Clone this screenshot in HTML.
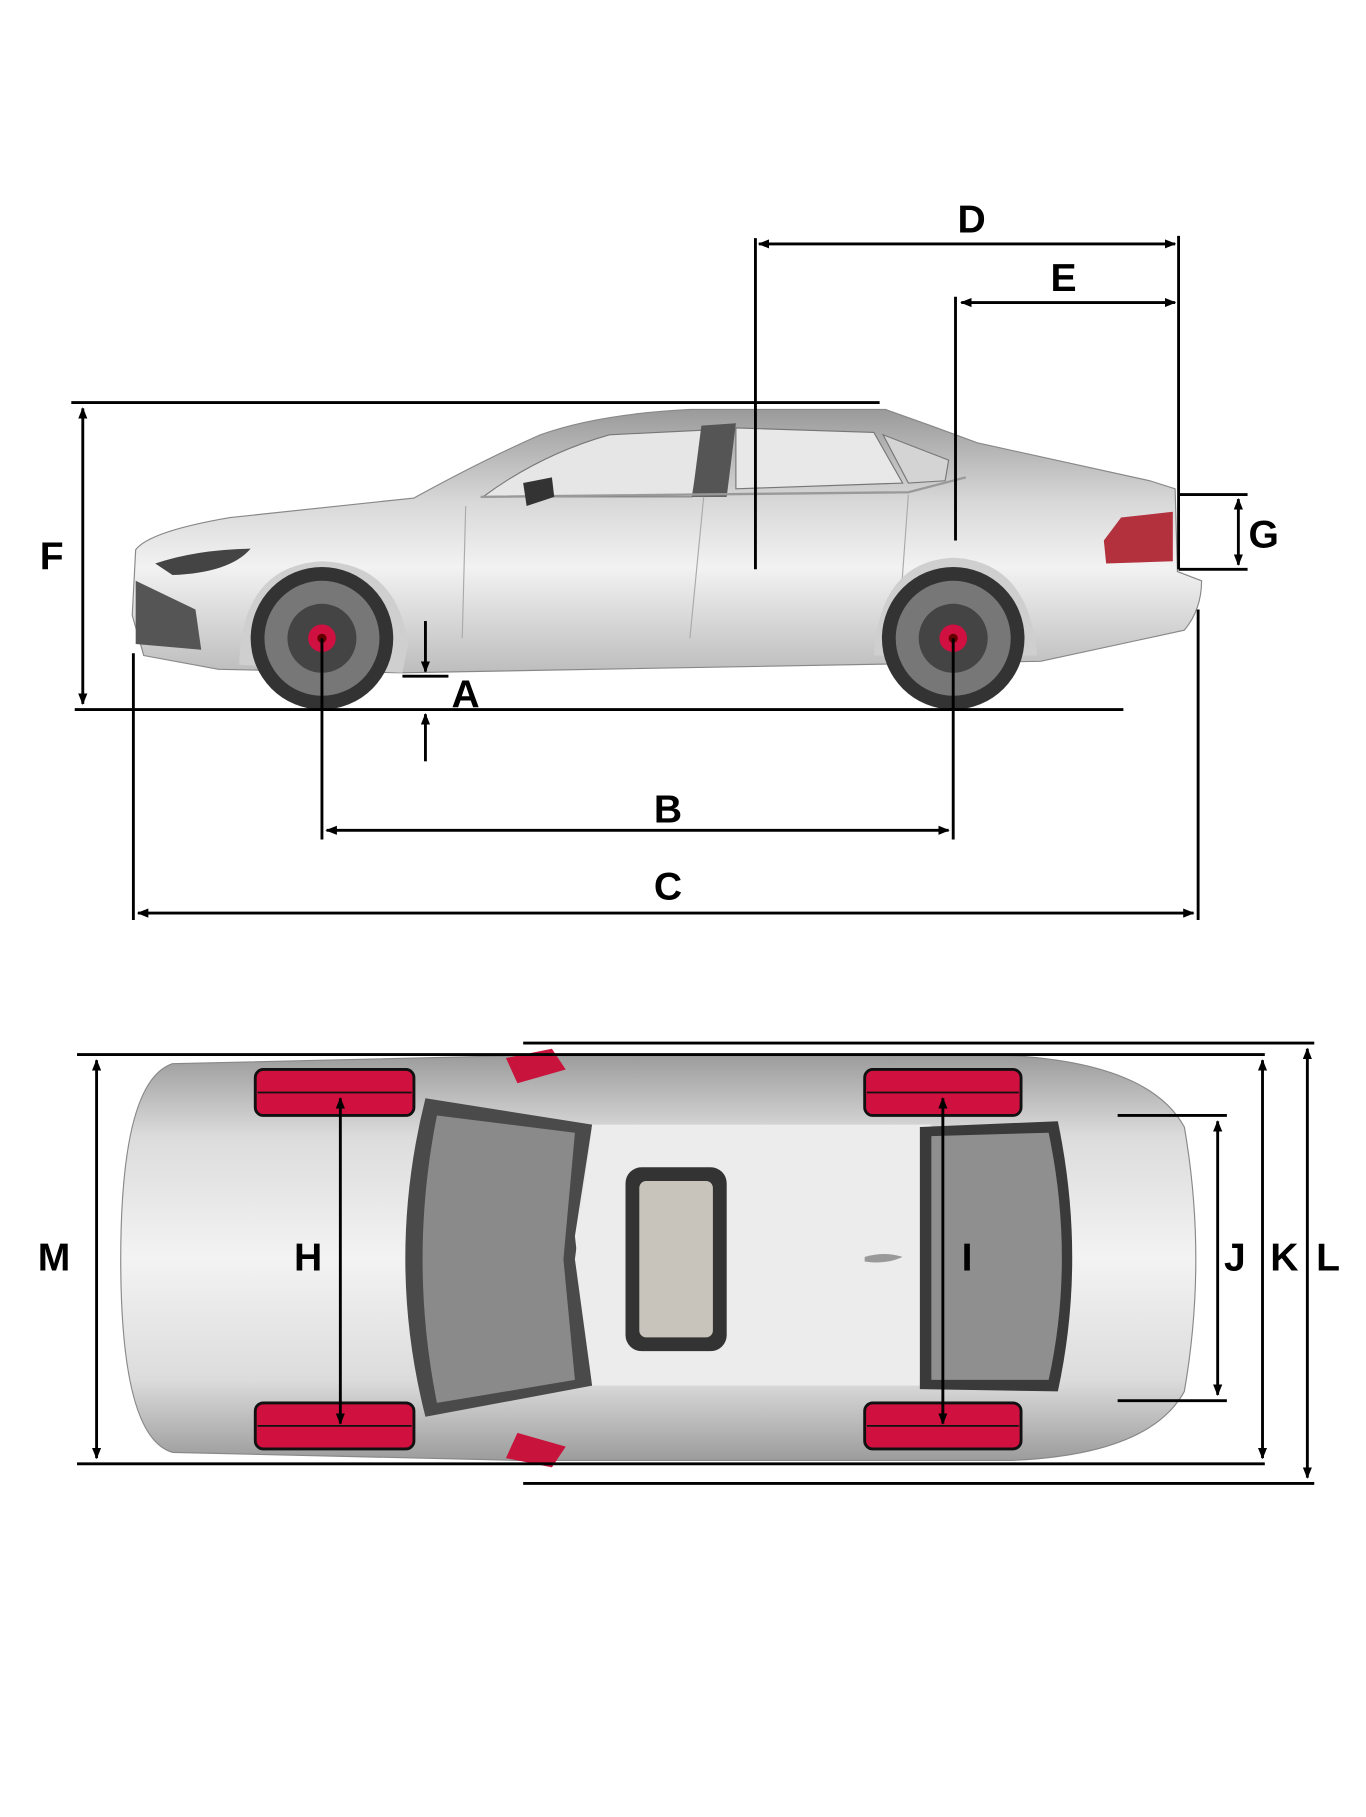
<!DOCTYPE html>
<html><head><meta charset="utf-8"><style>html,body{margin:0;padding:0;background:#fff}svg{display:block}</style></head>
<body>
<svg width="1366" height="1817" viewBox="0 0 1188 1580" xmlns="http://www.w3.org/2000/svg" font-family="Liberation Sans, sans-serif" font-weight="bold">
<defs>
<linearGradient id="body" x1="0" y1="0" x2="0" y2="1"><stop offset="0" stop-color="#9a9a9a"/><stop offset="0.35" stop-color="#d8d8d8"/><stop offset="0.6" stop-color="#f2f2f2"/><stop offset="1" stop-color="#bdbdbd"/></linearGradient>
<linearGradient id="top" x1="0" y1="0" x2="0" y2="1"><stop offset="0" stop-color="#9c9c9c"/><stop offset="0.2" stop-color="#dcdcdc"/><stop offset="0.5" stop-color="#f3f3f3"/><stop offset="0.8" stop-color="#dcdcdc"/><stop offset="1" stop-color="#9c9c9c"/></linearGradient>
<marker id="ar" markerWidth="10" markerHeight="8" refX="9" refY="4" orient="auto-start-reverse" markerUnits="userSpaceOnUse"><path d="M0,0 L10,4 L0,8 z" fill="#000"/></marker>
</defs>
<!-- side car -->
<path d="M118,478 Q130,462 200,450 L360,433 Q420,400 470,378 Q520,360 600,356 L770,356 Q810,370 850,385 L1000,418 L1022,425 L1024,497 L1045,505 Q1045,530 1030,548 L905,575 L350,585 L190,582 L125,570 L115,535 Z" fill="url(#body)" stroke="#888" stroke-width="1"/>
<path d="M420,432 Q470,395 530,378 L612,374 L602,432 Z" fill="#e6e6e6" stroke="#777"/>
<path d="M640,372 L760,376 L785,420 L640,425 Z" fill="#e8e8e8" stroke="#777"/>
<path d="M768,378 L825,400 L822,418 L790,420 Z" fill="#d4d4d4" stroke="#777"/>
<path d="M610,370 L640,368 L632,432 L602,432 Z" fill="#555"/>
<path d="M418,432 L790,428 L840,415" fill="none" stroke="#999" stroke-width="2"/>
<line x1="405" y1="440" x2="402" y2="555" stroke="#aaa"/>
<line x1="612" y1="432" x2="600" y2="555" stroke="#aaa"/>
<line x1="790" y1="430" x2="782" y2="540" stroke="#aaa"/>
<path d="M960,470 L975,450 L1020,445 L1020,488 L962,490 Z" fill="#b3303d"/>
<path d="M135,490 Q170,478 218,477 Q200,498 150,500 Z" fill="#444"/>
<path d="M118,505 L118,560 L175,565 L170,530 Z" fill="#555"/>
<path d="M455,420 L480,415 L482,432 L458,440 Z" fill="#333"/>
<path d="M208,578 Q210,492 280,488 Q345,490 355,560 L350,585 Z" fill="#cfcfcf"/>
<path d="M760,570 Q765,488 829,485 Q895,488 902,570 Z" fill="#cfcfcf"/>
<circle cx="280" cy="555" r="62" fill="#333"/><circle cx="280" cy="555" r="50" fill="#777"/><circle cx="280" cy="555" r="30" fill="#444"/><circle cx="280" cy="555" r="12" fill="#d01040"/><circle cx="280" cy="555" r="4" fill="#600"/>
<circle cx="829" cy="555" r="62" fill="#333"/><circle cx="829" cy="555" r="50" fill="#777"/><circle cx="829" cy="555" r="30" fill="#444"/><circle cx="829" cy="555" r="12" fill="#d01040"/><circle cx="829" cy="555" r="4" fill="#600"/>
<!-- side dims -->
<g stroke="#000" stroke-width="2.5" fill="none">
<line x1="62" y1="350" x2="765" y2="350"/>
<line x1="65" y1="617" x2="977" y2="617"/>
<line x1="72" y1="355" x2="72" y2="612" marker-start="url(#ar)" marker-end="url(#ar)"/>
<line x1="657" y1="207" x2="657" y2="495"/>
<line x1="1025" y1="205" x2="1025" y2="495"/>
<line x1="660" y1="212" x2="1022" y2="212" marker-start="url(#ar)" marker-end="url(#ar)"/>
<line x1="831" y1="258" x2="831" y2="470"/>
<line x1="836" y1="263" x2="1022" y2="263" marker-start="url(#ar)" marker-end="url(#ar)"/>
<line x1="1025" y1="430" x2="1085" y2="430"/>
<line x1="1025" y1="495" x2="1085" y2="495"/>
<line x1="1077" y1="434" x2="1077" y2="491" marker-start="url(#ar)" marker-end="url(#ar)"/>
<line x1="350" y1="588" x2="390" y2="588"/>
<line x1="370" y1="540" x2="370" y2="584" marker-end="url(#ar)"/>
<line x1="370" y1="662" x2="370" y2="621" marker-end="url(#ar)"/>
<line x1="280" y1="555" x2="280" y2="730"/>
<line x1="829" y1="555" x2="829" y2="730"/>
<line x1="284" y1="722" x2="825" y2="722" marker-start="url(#ar)" marker-end="url(#ar)"/>
<line x1="116" y1="568" x2="116" y2="800"/>
<line x1="1042" y1="530" x2="1042" y2="800"/>
<line x1="120" y1="794" x2="1038" y2="794" marker-start="url(#ar)" marker-end="url(#ar)"/>
</g>
<g font-size="34" text-anchor="middle" fill="#000">
<text x="845" y="202">D</text><text x="925" y="253">E</text><text x="45" y="495">F</text><text x="1099" y="476">G</text><text x="405" y="615">A</text><text x="581" y="715">B</text><text x="581" y="782">C</text>
</g>
<!-- top view car -->
<path d="M150,925 L450,918 L880,918 Q1000,925 1030,980 Q1050,1095 1030,1210 Q1000,1265 880,1270 L450,1270 L150,1263 Q105,1250 105,1095 Q105,940 150,925 Z" fill="url(#top)" stroke="#888"/>
<path d="M370,955 L515,978 L500,1075 L515,1205 L370,1232 Q335,1095 370,955 Z" fill="#4a4a4a"/>
<path d="M380,970 L500,985 L490,1095 L500,1200 L380,1220 Q355,1095 380,970 Z" fill="#8a8a8a"/>
<path d="M515,978 L810,978 L800,1205 L515,1205 L500,1095 Z" fill="#ececec"/>
<path d="M800,980 L920,975 Q945,1095 920,1210 L800,1208 Z" fill="#3a3a3a"/>
<path d="M810,988 L912,985 Q935,1095 912,1200 L810,1200 Z" fill="#8f8f8f"/>
<rect x="544" y="1015" width="88" height="160" rx="14" fill="#333"/>
<rect x="556" y="1027" width="64" height="136" rx="6" fill="#c9c4bb"/>
<path d="M440,920 L480,912 L492,930 L450,942 Z" fill="#c8143c"/>
<path d="M440,1268 L480,1276 L492,1258 L450,1246 Z" fill="#c8143c"/>
<path d="M752,1093 Q770,1088 785,1093 Q770,1100 752,1097 Z" fill="#999"/>
<g fill="#d0103f" stroke="#111" stroke-width="2.5">
<rect x="222" y="930" width="138" height="40" rx="7"/><rect x="222" y="1220" width="138" height="40" rx="7"/>
<rect x="752" y="930" width="136" height="40" rx="7"/><rect x="752" y="1220" width="136" height="40" rx="7"/>
</g>
<g stroke="#111" stroke-width="1.5"><line x1="224" y1="950" x2="358" y2="950"/><line x1="224" y1="1240" x2="358" y2="1240"/><line x1="754" y1="950" x2="886" y2="950"/><line x1="754" y1="1240" x2="886" y2="1240"/></g>
<!-- top dims -->
<g stroke="#000" stroke-width="2.5" fill="none">
<line x1="67" y1="917" x2="1100" y2="917"/>
<line x1="455" y1="907" x2="1143" y2="907"/>
<line x1="67" y1="1273" x2="1100" y2="1273"/>
<line x1="455" y1="1290" x2="1143" y2="1290"/>
<line x1="84" y1="922" x2="84" y2="1268" marker-start="url(#ar)" marker-end="url(#ar)"/>
<line x1="1098" y1="922" x2="1098" y2="1268" marker-start="url(#ar)" marker-end="url(#ar)"/>
<line x1="1137" y1="912" x2="1137" y2="1285" marker-start="url(#ar)" marker-end="url(#ar)"/>
<line x1="972" y1="970" x2="1067" y2="970"/>
<line x1="972" y1="1218" x2="1067" y2="1218"/>
<line x1="1059" y1="975" x2="1059" y2="1213" marker-start="url(#ar)" marker-end="url(#ar)"/>
<line x1="296" y1="955" x2="296" y2="1238" marker-start="url(#ar)" marker-end="url(#ar)"/>
<line x1="820" y1="955" x2="820" y2="1238" marker-start="url(#ar)" marker-end="url(#ar)"/>
</g>
<g font-size="34" text-anchor="middle" fill="#000">
<text x="47" y="1105">M</text><text x="268" y="1105">H</text><text x="841" y="1105">I</text><text x="1074" y="1105">J</text><text x="1117" y="1105">K</text><text x="1155" y="1105">L</text>
</g>
</svg>
</body></html>
